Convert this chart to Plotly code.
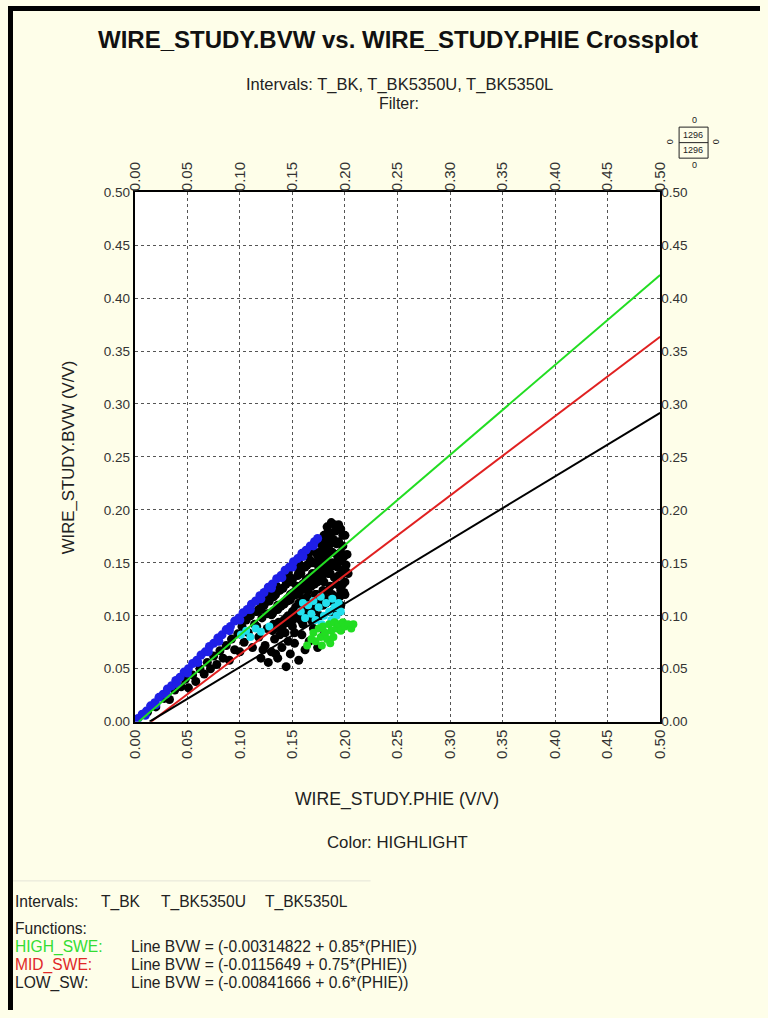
import plotly.graph_objects as go

W, H = 768, 1018
# the photographed page shows up inset by 8px and scaled 752/768, 1002/1018;
# picture coordinates (X, Y) are mapped back into paper coordinates below
INSET = 8
PW, PH = W - 2 * INSET, H - 2 * INSET

# ---------------- data ----------------
x_ticks = [0.00, 0.05, 0.10, 0.15, 0.20, 0.25, 0.30, 0.35, 0.40, 0.45, 0.50]
y_ticks = [0.00, 0.05, 0.10, 0.15, 0.20, 0.25, 0.30, 0.35, 0.40, 0.45, 0.50]

blue_phie = [0.003, 0.007, 0.011, 0.015, 0.019, 0.023, 0.027, 0.031, 0.035, 0.039, 0.043,
             0.047, 0.051, 0.055, 0.059, 0.063, 0.067, 0.071, 0.075, 0.079, 0.083, 0.087,
             0.091, 0.095, 0.099, 0.103, 0.107, 0.111, 0.115, 0.119, 0.123, 0.127, 0.131,
             0.135, 0.139, 0.143, 0.147, 0.151, 0.155, 0.159, 0.163, 0.167, 0.171, 0.174,
             0.010, 0.020, 0.030, 0.040, 0.050, 0.060, 0.070, 0.080, 0.090, 0.100, 0.110,
             0.120, 0.130, 0.140, 0.150, 0.160, 0.170]
blue_bvw = [0.003, 0.007, 0.010, 0.015, 0.018, 0.023, 0.026, 0.031, 0.034, 0.039, 0.042,
            0.047, 0.050, 0.055, 0.058, 0.063, 0.066, 0.071, 0.074, 0.079, 0.082, 0.087,
            0.090, 0.095, 0.098, 0.103, 0.106, 0.111, 0.114, 0.119, 0.122, 0.127, 0.130,
            0.135, 0.138, 0.143, 0.146, 0.151, 0.154, 0.159, 0.162, 0.166, 0.170, 0.173,
            0.006, 0.016, 0.026, 0.036, 0.046, 0.056, 0.066, 0.076, 0.086, 0.096, 0.106,
            0.116, 0.126, 0.136, 0.146, 0.156, 0.166]

black_phie = [0.012, 0.020, 0.028, 0.033, 0.038, 0.044, 0.048, 0.051, 0.055, 0.058, 0.062,
              0.066, 0.069, 0.072, 0.075, 0.078, 0.081, 0.084, 0.087, 0.090, 0.092, 0.095,
              0.098, 0.100, 0.102, 0.104, 0.106, 0.108, 0.110, 0.112, 0.114, 0.116, 0.118,
              0.120, 0.121, 0.123, 0.124, 0.126, 0.127, 0.128, 0.130, 0.131, 0.133, 0.134,
              0.136, 0.137, 0.139, 0.140, 0.141, 0.143, 0.144, 0.145, 0.146, 0.148, 0.149,
              0.150, 0.151, 0.152, 0.153, 0.155, 0.156, 0.157, 0.158, 0.159, 0.160, 0.161,
              0.162, 0.163, 0.164, 0.165, 0.166, 0.167, 0.168, 0.169, 0.170, 0.171, 0.172,
              0.173, 0.174, 0.175, 0.176, 0.177, 0.178, 0.179, 0.180, 0.180, 0.181, 0.182,
              0.183, 0.184, 0.185, 0.186, 0.187, 0.188, 0.188, 0.189, 0.190, 0.191, 0.192,
              0.192, 0.193, 0.194, 0.195, 0.196, 0.196, 0.197, 0.198, 0.198, 0.199, 0.200,
              0.200, 0.201, 0.202, 0.125, 0.135, 0.145, 0.155, 0.165, 0.118, 0.128, 0.138,
              0.148, 0.158, 0.168, 0.178, 0.142, 0.152, 0.162, 0.172,
              0.140, 0.142, 0.144, 0.146, 0.148, 0.150, 0.152, 0.154, 0.156, 0.158, 0.160,
              0.160, 0.162, 0.164, 0.164, 0.166, 0.168, 0.168, 0.170, 0.170, 0.172, 0.172,
              0.174, 0.174, 0.176, 0.176, 0.178, 0.178, 0.180, 0.180, 0.182, 0.182, 0.184,
              0.184, 0.186, 0.186, 0.188, 0.188, 0.190, 0.190, 0.192, 0.192, 0.194, 0.194,
              0.196, 0.196, 0.198, 0.198, 0.200, 0.200, 0.132, 0.134, 0.126, 0.122, 0.138,
              0.116, 0.130, 0.136, 0.120, 0.146, 0.156, 0.166, 0.176, 0.184, 0.194, 0.203,
              0.130, 0.133, 0.136, 0.139, 0.142, 0.145, 0.148, 0.151, 0.154, 0.157, 0.160,
              0.163, 0.166, 0.169, 0.172, 0.175, 0.178, 0.181, 0.184, 0.187, 0.190, 0.193,
              0.196, 0.199, 0.131, 0.135, 0.139, 0.143, 0.147, 0.151, 0.155, 0.159, 0.163,
              0.167, 0.171, 0.175, 0.179, 0.183, 0.187, 0.191, 0.195, 0.199, 0.120, 0.126,
              0.132, 0.138, 0.144, 0.150, 0.156, 0.162, 0.168, 0.174, 0.180, 0.186]
black_bvw = [0.009, 0.014, 0.022, 0.021, 0.030, 0.033, 0.040, 0.032, 0.044, 0.038, 0.050,
             0.045, 0.056, 0.050, 0.062, 0.054, 0.067, 0.060, 0.072, 0.058, 0.078, 0.068,
             0.083, 0.066, 0.090, 0.075, 0.096, 0.084, 0.100, 0.070, 0.092, 0.104, 0.080,
             0.060, 0.098, 0.110, 0.072, 0.088, 0.056, 0.114, 0.066, 0.102, 0.078, 0.120,
             0.060, 0.094, 0.110, 0.070, 0.126, 0.084, 0.052, 0.116, 0.100, 0.064, 0.132,
             0.090, 0.122, 0.074, 0.108, 0.138, 0.058, 0.128, 0.096, 0.082, 0.116, 0.146,
             0.068, 0.134, 0.104, 0.124, 0.076, 0.152, 0.112, 0.140, 0.088, 0.130, 0.160,
             0.120, 0.070, 0.146, 0.100, 0.168, 0.136, 0.124, 0.082, 0.176, 0.150, 0.112,
             0.184, 0.140, 0.162, 0.128, 0.188, 0.150, 0.104, 0.172, 0.136, 0.180, 0.118,
             0.158, 0.146, 0.170, 0.128, 0.182, 0.110, 0.152, 0.140, 0.166, 0.122, 0.132,
             0.176, 0.148, 0.158, 0.118, 0.128, 0.135, 0.146, 0.156, 0.106, 0.118, 0.124,
             0.136, 0.144, 0.150, 0.158, 0.096, 0.104, 0.112, 0.120,
             0.088, 0.112, 0.098, 0.076, 0.120, 0.104, 0.084, 0.128, 0.112, 0.140, 0.092,
             0.130, 0.108, 0.148, 0.118, 0.136, 0.096, 0.128, 0.150, 0.110, 0.140, 0.120,
             0.158, 0.132, 0.112, 0.152, 0.144, 0.162, 0.132, 0.118, 0.170, 0.156, 0.124,
             0.150, 0.176, 0.140, 0.160, 0.120, 0.148, 0.186, 0.130, 0.168, 0.156, 0.138,
             0.160, 0.124, 0.176, 0.130, 0.144, 0.120, 0.092, 0.064, 0.102, 0.068, 0.082,
             0.090, 0.120, 0.110, 0.106, 0.140, 0.150, 0.162, 0.172, 0.180, 0.186, 0.140,
             0.101, 0.105, 0.106, 0.109, 0.111, 0.114, 0.115, 0.119, 0.120, 0.123, 0.125,
             0.128, 0.129, 0.133, 0.134, 0.138, 0.139, 0.142, 0.144, 0.147, 0.148, 0.152,
             0.153, 0.156, 0.086, 0.089, 0.090, 0.093, 0.094, 0.097, 0.098, 0.101, 0.102,
             0.105, 0.106, 0.109, 0.110, 0.113, 0.114, 0.117, 0.118, 0.121, 0.108, 0.114,
             0.118, 0.125, 0.130, 0.134, 0.141, 0.146, 0.151, 0.157, 0.163, 0.168]

cyan_phie = [0.101, 0.106, 0.110, 0.115, 0.120, 0.128, 0.158, 0.160, 0.162, 0.165, 0.168,
             0.170, 0.172, 0.175, 0.177, 0.178, 0.180, 0.182, 0.185, 0.187, 0.188, 0.190,
             0.192, 0.194, 0.196]
cyan_bvw = [0.082, 0.086, 0.080, 0.088, 0.085, 0.090, 0.104, 0.112, 0.098, 0.110, 0.102,
            0.114, 0.096, 0.108, 0.118, 0.092, 0.100, 0.112, 0.104, 0.096, 0.116, 0.108,
            0.100, 0.112, 0.104]

green_phie = [0.164, 0.168, 0.170, 0.172, 0.175, 0.177, 0.178, 0.179, 0.181, 0.183, 0.185,
              0.186, 0.187, 0.189, 0.190, 0.192, 0.194, 0.196, 0.198, 0.200, 0.203, 0.206,
              0.208]
green_bvw = [0.072, 0.078, 0.084, 0.076, 0.088, 0.080, 0.072, 0.090, 0.084, 0.078, 0.092,
             0.074, 0.086, 0.080, 0.094, 0.088, 0.092, 0.086, 0.094, 0.090, 0.092, 0.088,
             0.092]

func_names = ["HIGH_SWE", "MID_SWE", "LOW_SW"]
func_intercepts = [-0.00314822, -0.0115649, -0.00841666]
func_slopes = [0.85, 0.75, 0.6]
func_colors = ["#22DD22", "#E02020", "#000000"]
func_label_colors = ["#33DD33", "#E02828", "#222222"]
func_texts = ["Line BVW = (-0.00314822 + 0.85*(PHIE))",
              "Line BVW = (-0.0115649 + 0.75*(PHIE))",
              "Line BVW = (-0.00841666 + 0.6*(PHIE))"]
interval_names = ["T_BK", "T_BK5350U", "T_BK5350L"]

x_max = 0.5

# ---------------- figure ----------------
FONT = "Liberation Sans, Arial, sans-serif"
BG = "#FEFEE9"


def px(x):
    return (x - INSET) / PW


def py(y):
    return 1 - (y - INSET) / PH


fig = go.Figure()

fig.add_trace(go.Scatter(x=black_phie, y=black_bvw, mode="markers",
                         marker=dict(color="#000000", size=9, line=dict(width=0)), showlegend=False))
fig.add_trace(go.Scatter(x=blue_phie, y=blue_bvw, mode="markers",
                         marker=dict(color="#1E1EE6", size=9, line=dict(width=0)), showlegend=False))
fig.add_trace(go.Scatter(x=cyan_phie, y=cyan_bvw, mode="markers",
                         marker=dict(color="#22E0EE", size=8, line=dict(width=0)), showlegend=False))
fig.add_trace(go.Scatter(x=green_phie, y=green_bvw, mode="markers",
                         marker=dict(color="#22DD22", size=8, line=dict(width=0)), showlegend=False))

for name, b, m, c in zip(func_names, func_intercepts, func_slopes, func_colors):
    x0 = -b / m
    fig.add_trace(go.Scatter(x=[x0, x_max], y=[b + m * x0, b + m * x_max], mode="lines",
                             line=dict(color=c, width=2), showlegend=False, name=name))

# invisible trace for secondary axes
fig.add_trace(go.Scatter(x=[0], y=[0], xaxis="x2", yaxis="y2", mode="markers",
                         marker=dict(opacity=0), showlegend=False, hoverinfo="skip"))

x_dom = [px(134), px(660)]
y_dom = [py(722), py(193)]
xtickfont = dict(family=FONT, size=15, color="#333333")
ytickfont = dict(family=FONT, size=13.5, color="#333333")
common = dict(range=[0, 0.5], tickvals=x_ticks, ticktext=[f"{v:.2f}" for v in x_ticks],
              zeroline=False, ticks="", fixedrange=True)

fig.update_layout(
    width=W, height=H, autosize=False,
    margin=dict(l=0, r=0, t=0, b=0),
    paper_bgcolor=BG, plot_bgcolor="#FFFFFF",
    font=dict(family=FONT, color="#222222"),
    xaxis=dict(domain=x_dom, anchor="y", side="bottom", tickangle=-90, tickfont=xtickfont,
               showgrid=True, gridcolor="#555555", griddash="dot", gridwidth=1,
               showline=True, linecolor="#000000", linewidth=2, mirror=True, **common),
    xaxis2=dict(domain=x_dom, anchor="y", overlaying="x", side="top", tickangle=-90,
                tickfont=xtickfont, showgrid=False, showline=False, **common),
    yaxis=dict(domain=y_dom, anchor="x", side="left", tickfont=ytickfont,
               showgrid=True, gridcolor="#555555", griddash="dot", gridwidth=1,
               showline=True, linecolor="#000000", linewidth=2, mirror=True, **common),
    yaxis2=dict(domain=y_dom, anchor="x", overlaying="y", side="right", tickfont=ytickfont,
                showgrid=False, showline=False, **common),
)

ann = []


def text(x, y, s, size=14, color="#222222", xanchor="center", bold=False, angle=0, family=FONT):
    ann.append(dict(x=px(x), y=py(y), xref="paper", yref="paper", text=(f"<b>{s}</b>" if bold else s),
                    showarrow=False, xanchor=xanchor, yanchor="middle", textangle=angle,
                    font=dict(family=family, size=size, color=color)))


text(398, 40, "WIRE_STUDY.BVW vs. WIRE_STUDY.PHIE Crossplot", size=24, color="#111111", bold=True)
text(399, 85, "Intervals: T_BK, T_BK5350U, T_BK5350L", size=16.5)
text(399, 104, "Filter:", size=16)
text(397, 800, "WIRE_STUDY.PHIE (V/V)", size=17.6)
text(397, 843, "Color: HIGHLIGHT", size=16.8)
text(68, 458, "WIRE_STUDY.BVW (V/V)", size=16.8, angle=-90)

BOT = 15.6
text(12, 902, "Intervals:", size=BOT, xanchor="left")
for xs, nm in zip([98, 158, 262], interval_names):
    text(xs, 902, nm, size=BOT, xanchor="left")
text(12, 929, "Functions:", size=BOT, xanchor="left")
for i, (name, c, t) in enumerate(zip(func_names, func_label_colors, func_texts)):
    yy = 947 + i * 18
    text(12, yy, name + ":", size=BOT, color=c, xanchor="left")
    text(128, yy, t, size=BOT, xanchor="left")

# small count box
text(694, 121, "0", size=9)
text(694, 166, "0", size=9)
text(670, 143, "0", size=9, angle=-90)
text(716, 143, "0", size=9, angle=-90)
text(693, 136, "1296", size=9)
text(693, 151, "1296", size=9)

fig.update_layout(annotations=ann)

shapes = [
    dict(type="rect", xref="paper", yref="paper", x0=px(679), x1=px(708), y0=py(128), y1=py(159),
         line=dict(color="#222222", width=1)),
    dict(type="line", xref="paper", yref="paper", x0=px(679), x1=px(708), y0=py(143.5), y1=py(143.5),
         line=dict(color="#222222", width=1)),
    dict(type="line", xref="paper", yref="paper", x0=px(10), x1=px(370), y0=py(881), y1=py(881),
         line=dict(color="#E4E4D8", width=1)),
    # figure frame (top and left)
    dict(type="line", xref="paper", yref="paper", x0=px(7), x1=1, y0=py(9.5), y1=py(9.5),
         line=dict(color="#000000", width=5)),
    dict(type="line", xref="paper", yref="paper", x0=px(9.5), x1=px(9.5), y0=py(7), y1=0,
         line=dict(color="#000000", width=5)),
]
fig.update_layout(shapes=shapes)

fig.write_html("out.html", config={"displayModeBar": False},
               post_script=f"document.body.style.margin='0';document.body.style.background='{BG}';")
